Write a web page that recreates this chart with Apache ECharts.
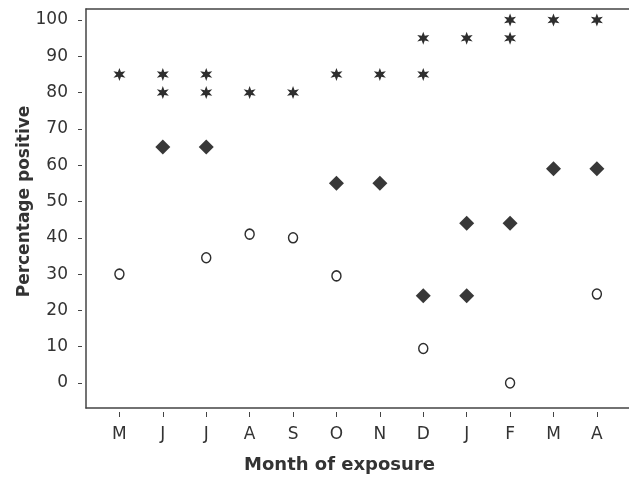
<!DOCTYPE html>
<html>
<head>
<meta charset="utf-8">
<script src="https://cdn.jsdelivr.net/npm/echarts@6/dist/echarts.min.js"></script>
<style>
html,body{margin:0;padding:0;background:#fff;}
#chart{width:629px;height:477px;}
</style>
</head>
<body>
<div id="chart"></div>
<script>
// Month labels (May .. April)
var months = ['M','J','J','A','S','O','N','D','J','F','M','A'];
var yTicks = [0,10,20,30,40,50,60,70,80,90,100];

// Series: [month index, percentage positive]
var starPoints = [[0,85],[1,85],[1,80],[2,85],[2,80],[3,80],[4,80],[5,85],[6,85],[7,95],[7,85],[8,95],[9,100],[9,95],[10,100],[11,100]];
var diamondPoints = [[1,65],[2,65],[5,55],[6,55],[7,24],[8,24],[8,44],[9,44],[10,59],[11,59]];
var circlePoints = [[0,30],[2,34.5],[3,41],[4,40],[5,29.5],[7,9.5],[9,0],[11,24.5]];

var starPath = 'path://M10 0 L12.2 6.3 L18.66 5 L14.4 10 L18.66 15 L12.2 13.7 L10 20 L7.8 13.7 L1.34 15 L5.6 10 L1.34 5 L7.8 6.3 Z';

var X_MIN = -0.77, X_MAX = 11.74, Y_MIN = -6.89, Y_MAX = 103.03;
var monthIdx = months.map(function(m,i){return i;});
var labelFont = 'DejaVu Sans';
var lineAxis = function(extra){
  var o = {
    type: 'value', min: 0, max: 1,
    splitLine: {show: false},
    axisTick: {show: false},
    axisLabel: {show: false},
    axisLine: {show: true, onZero: false, lineStyle: {color: '#444', width: 1.5}}
  };
  for (var k in extra) o[k] = extra[k];
  return o;
};

var chart = echarts.init(document.getElementById('chart'));
chart.setOption({
  animation: false,
  backgroundColor: '#fff',
  grid: { left: 86, top: 9, bottom: 69, right: 0, show: false, containLabel: false, outerBoundsMode: 'none' },
  xAxis: [{
    type: 'value',
    position: 'bottom',
    min: X_MIN, max: X_MAX,
    offset: 4,
    splitLine: {show: false},
    axisLine: {show: false, onZero: false},
    axisTick: {show: true, length: 5, customValues: monthIdx, lineStyle: {color: '#444', width: 1}},
    axisLabel: {
      customValues: monthIdx,
      formatter: function(v){ return months[Math.round(v)]; },
      fontFamily: labelFont, fontSize: 17, color: '#333', margin: 14
    },
    name: 'Month of exposure',
    nameLocation: 'middle',
    nameGap: 44,
    nameMoveOverlap: false,
    nameTextStyle: {fontFamily: 'DejaVu Sans', fontWeight: 'bold', fontSize: 18, color: '#333', padding: [0, 36, 0, 0]}
  },
  lineAxis({position: 'bottom'}),
  lineAxis({position: 'top'})
  ],
  yAxis: [{
    type: 'value',
    position: 'left',
    min: Y_MIN, max: Y_MAX,
    offset: 4,
    splitLine: {show: false},
    axisLine: {show: false, onZero: false},
    axisTick: {show: true, length: 4, customValues: yTicks, lineStyle: {color: '#444', width: 1}},
    axisLabel: {
      customValues: yTicks,
      fontFamily: labelFont, fontSize: 17, color: '#333', margin: 14
    },
    name: 'Percentage positive',
    nameLocation: 'middle',
    nameGap: 49,
    nameMoveOverlap: false,
    nameTextStyle: {fontFamily: 'DejaVu Sans', fontWeight: 'bold', fontSize: 17, color: '#333', padding: [0, 0, 0, 14]}
  },
  lineAxis({position: 'left'})
  ],
  series: [
    {
      type: 'scatter', data: starPoints, symbol: starPath, symbolSize: [12,13],
      itemStyle: {color: '#2e2e2e', opacity: 1}
    },
    {
      type: 'scatter', data: diamondPoints, symbol: 'diamond', symbolSize: 15,
      itemStyle: {color: '#383838', opacity: 1}
    },
    {
      type: 'scatter', data: circlePoints, symbol: 'circle', symbolSize: [9,10],
      itemStyle: {color: '#fff', borderColor: '#2e2e2e', borderWidth: 1.5, opacity: 1}
    }
  ]
});
</script>
</body>
</html>
